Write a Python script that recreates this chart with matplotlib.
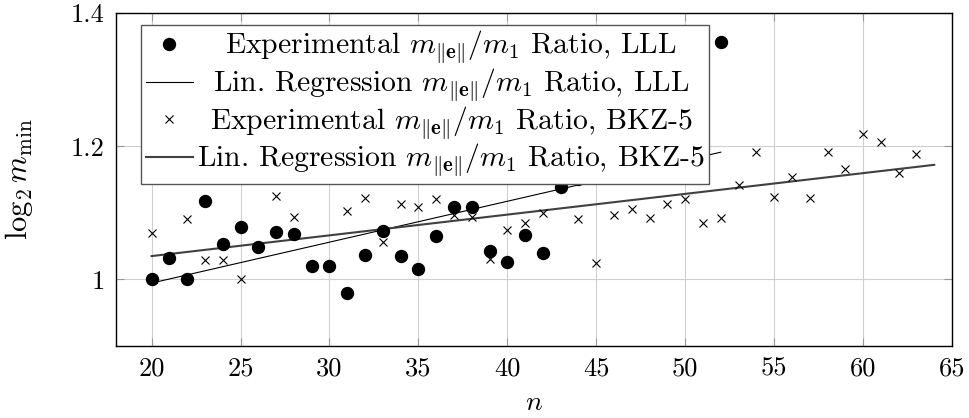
import matplotlib
matplotlib.use('Agg')
import matplotlib.pyplot as plt
from matplotlib.ticker import FuncFormatter, MultipleLocator

# Experimental ratios, LLL (points for n=45..51 sit behind the legend)
lll_n = [20, 21, 22, 23, 24, 25, 26, 27, 28, 29, 30, 31, 32, 33, 34, 35, 36, 37, 38, 39, 40, 41, 42, 43, 44, 52]
lll_val = [1.000, 1.032, 1.000, 1.117, 1.053, 1.078, 1.048, 1.071, 1.068, 1.020, 1.020, 0.980, 1.037,
           1.073, 1.035, 1.016, 1.065, 1.109, 1.108, 1.043, 1.026, 1.066, 1.039, 1.139, 1.151, 1.356]

# Experimental ratios, BKZ-5
bkz_n = [20, 22, 23, 24, 25, 27, 28, 31, 32, 33, 34, 35, 36, 37, 38, 39, 40, 41, 42, 44,
         45, 46, 47, 48, 49, 50, 51, 52, 53, 54, 55, 56, 57, 58, 59, 60, 61, 62, 63]
bkz_val = [1.069, 1.091, 1.029, 1.029, 1.000, 1.125, 1.093, 1.102, 1.122, 1.056, 1.113, 1.109, 1.120,
           1.097, 1.094, 1.030, 1.074, 1.085, 1.099, 1.090, 1.024, 1.096, 1.106, 1.092, 1.113, 1.120,
           1.084, 1.092, 1.142, 1.192, 1.124, 1.153, 1.122, 1.191, 1.165, 1.218, 1.206, 1.160, 1.189]

# Regression lines (end points)
reg_lll_n = [20, 52]
reg_lll_val = [0.9945, 1.191]
reg_bkz_n = [20, 64]
reg_bkz_val = [1.035, 1.172]

plt.rcParams['font.family'] = ['cmr10']
plt.rcParams['mathtext.fontset'] = 'cm'
plt.rcParams['axes.formatter.use_mathtext'] = True
plt.rcParams['font.size'] = 19

fig = plt.figure(figsize=(9.69, 4.18), dpi=100)
ax = fig.add_axes([0.1197, 0.1722, 0.8628, 0.7968])

ratio = r'$m_{\Vert\mathbf{e}\Vert}/m_1$'
ax.plot(lll_n, lll_val, linestyle='none', marker='o', color='black', markersize=8.6,
        label='Experimental ' + ratio + ' Ratio, LLL', zorder=3)
ax.plot(reg_lll_n, reg_lll_val, color='black', linewidth=0.8,
        label='Lin. Regression ' + ratio + ' Ratio, LLL', zorder=2)
ax.plot(bkz_n, bkz_val, linestyle='none', marker='x', color='black', markersize=6, markeredgewidth=0.8,
        label='Experimental ' + ratio + ' Ratio, BKZ-5', zorder=3)
ax.plot(reg_bkz_n, reg_bkz_val, color='#404040', linewidth=1.5,
        label='Lin. Regression ' + ratio + ' Ratio, BKZ-5', zorder=2)

ax.set_xlim(18, 65)
ax.set_ylim(0.9, 1.4)
ax.xaxis.set_major_locator(MultipleLocator(5))
ax.yaxis.set_major_locator(MultipleLocator(0.2))
ax.yaxis.set_major_formatter(FuncFormatter(lambda v, p: f'{v:g}'))
ax.xaxis.set_major_formatter(FuncFormatter(lambda v, p: f'{v:g}'))
ax.tick_params(direction='in', length=6, width=0.8, color='#999999', pad=8,
               top=True, right=True, labelsize=19)
ax.grid(True, color='#d0d0d0', linewidth=0.8)
ax.set_axisbelow(True)
for s in ax.spines.values():
    s.set_linewidth(1.0)

ax.set_xlabel('$n$', labelpad=6, fontsize=20)
ax.set_ylabel(r'$\log_2 m_{\min}$', labelpad=26, fontsize=22)

leg = ax.legend(loc='upper left', bbox_to_anchor=(0.030, 0.965), borderaxespad=0, numpoints=1,
                fancybox=False, framealpha=1, edgecolor='#555555', fontsize=21.4,
                handlelength=1.6, handletextpad=0.14, borderpad=0.15, labelspacing=0.02)
leg.get_frame().set_linewidth(1.0)
leg.set_zorder(5)

# centre the legend texts like pgfplots does
fig.canvas.draw()
renderer = fig.canvas.get_renderer()
widths = [t.get_window_extent(renderer).width for t in leg.get_texts()]
wmax = max(widths)
rows = [row for col in leg._legend_handle_box.get_children() for row in col.get_children()]
for row, w in zip(rows, widths):
    row.sep += (wmax - w) / 2 * 72 / fig.dpi

fig.savefig('out.png', dpi=100)
